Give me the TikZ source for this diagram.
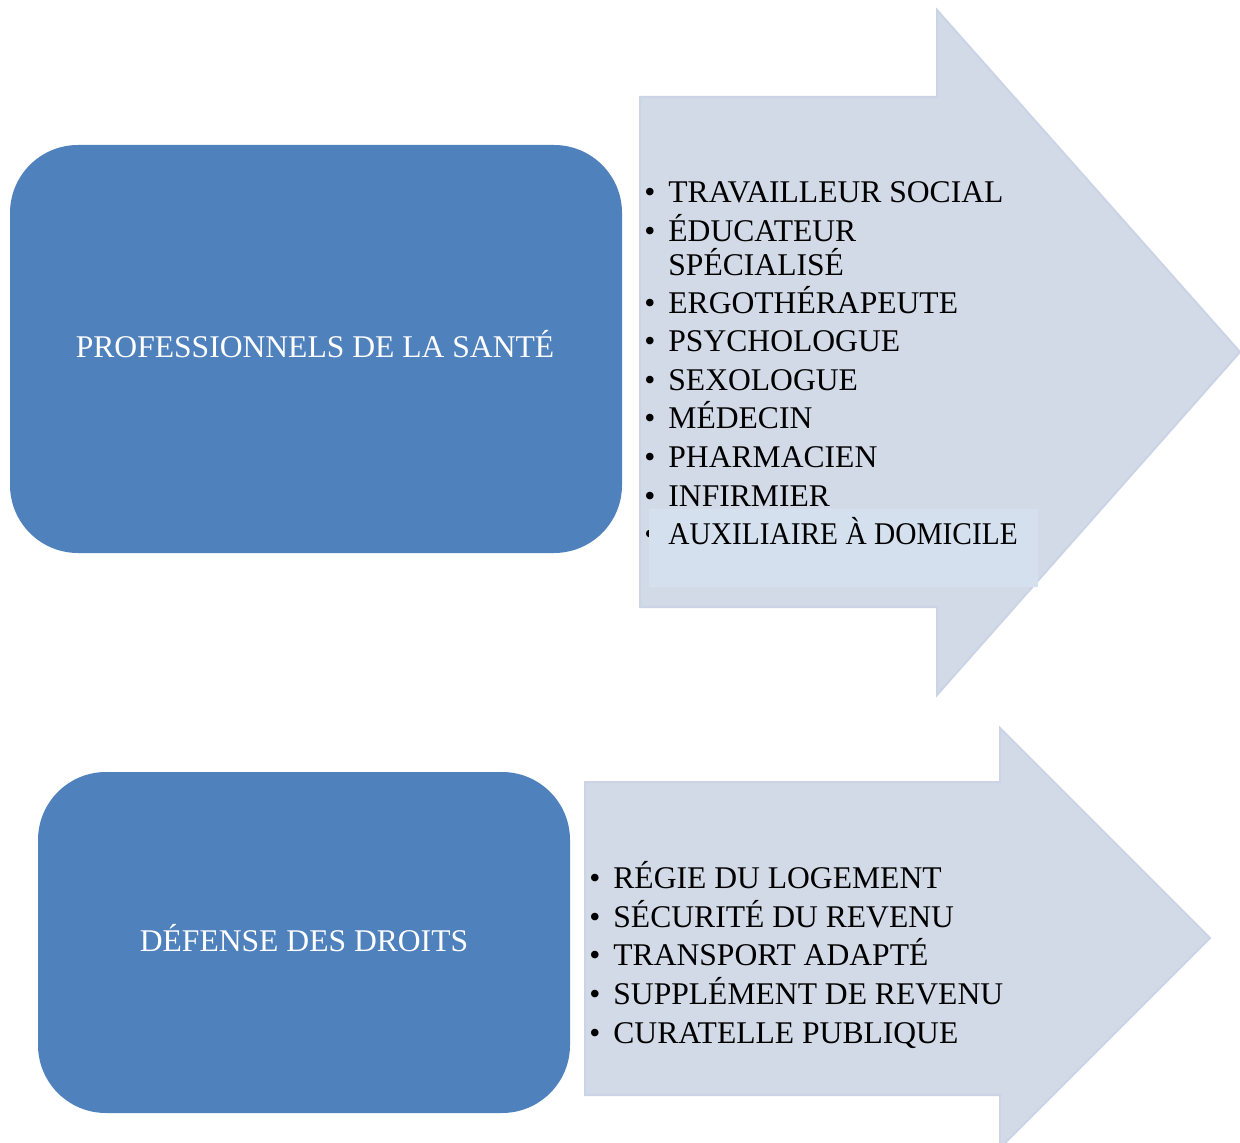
\documentclass[tikz,border=0pt]{standalone}
\usepackage{fontspec}
\setmainfont{Liberation Serif}
\definecolor{boxblue}{HTML}{4F81BD}
\definecolor{arrowfill}{HTML}{D3DAE7}
\definecolor{arrowline}{HTML}{CBD4E6}
\definecolor{hilite}{HTML}{D5E0EE}
\newcommand\lblfont{\fontsize{15.8pt}{19pt}\selectfont}
\begin{document}
\begin{tikzpicture}[x=0.5pt,y=-0.5pt,
  catbox/.style={rounded corners=34pt, fill=boxblue, text=white, font=\lblfont, inner sep=0pt},
  bigarrow/.style={fill=arrowfill, draw=arrowline, line width=1pt, line join=miter},
  item/.style={anchor=base west, inner sep=0pt, font=\lblfont, text=black},
  bul/.style={anchor=base west, inner sep=0pt, font=\lblfont, text=black}]
\useasboundingbox (0,0) rectangle (1240,1143);
\fill[white] (0,0) rectangle (1240,1143);
% arrows
\draw[bigarrow] (640,97) -- (937,97) -- (937,10) -- (1240,352) -- (937,695) -- (937,607) -- (640,607) -- cycle;
\draw[bigarrow] (585,782) -- (1000,782) -- (1000,728) -- (1210,938) -- (1000,1148) -- (1000,1095) -- (585,1095) -- cycle;
% category boxes
\node[catbox, minimum width=306pt, minimum height=204pt] (prof) at (316,349) {};
\node[anchor=base, inner sep=0pt, font=\lblfont, text=white] (proflbl) at (315,358) {PROFESSIONNELS DE LA SANTÉ};
\node[catbox, minimum width=266pt, minimum height=170.5pt] (droits) at (304,942.5) {};
\node[anchor=base, inner sep=0pt, font=\lblfont, text=white] (droitslbl) at (304,951) {DÉFENSE DES DROITS};
% first list
\node[bul] (b1) at (644,203) {•}; \node[item] (t1) at (668,203) {TRAVAILLEUR SOCIAL};
\node[bul] (b2) at (644,242) {•}; \node[item] (t2) at (668,242) {ÉDUCATEUR};
\node[item] (t2b) at (668,276) {SPÉCIALISÉ};
\node[bul] (b3) at (644,314) {•}; \node[item] (t3) at (668,314) {ERGOTHÉRAPEUTE};
\node[bul] (b4) at (644,352) {•}; \node[item] (t4) at (668,352) {PSYCHOLOGUE};
\node[bul] (b5) at (644,391) {•}; \node[item] (t5) at (668,391) {SEXOLOGUE};
\node[bul] (b6) at (644,429) {•}; \node[item] (t6) at (668,429) {MÉDECIN};
\node[bul] (b7) at (644,468) {•}; \node[item] (t7) at (668,468) {PHARMACIEN};
\node[bul] (b8) at (644,507) {•}; \node[item] (t8) at (668,507) {INFIRMIER};
\node[bul] (b9) at (644,545) {•};
\fill[hilite] (649,509) rectangle (1038,587);
\node[item] (t9) at (668,545) {\scalebox{0.93}[1]{AUXILIAIRE À DOMICILE}};
% second list
\node[bul] (c1) at (589,888) {•}; \node[item] (u1) at (613,888) {RÉGIE DU LOGEMENT};
\node[bul] (c2) at (589,927) {•}; \node[item] (u2) at (613,927) {SÉCURITÉ DU REVENU};
\node[bul] (c3) at (589,965) {•}; \node[item] (u3) at (613,965) {TRANSPORT ADAPTÉ};
\node[bul] (c4) at (589,1004) {•}; \node[item] (u4) at (613,1004) {SUPPLÉMENT DE REVENU};
\node[bul] (c5) at (589,1043) {•}; \node[item] (u5) at (613,1043) {CURATELLE PUBLIQUE};
\end{tikzpicture}
\end{document}
